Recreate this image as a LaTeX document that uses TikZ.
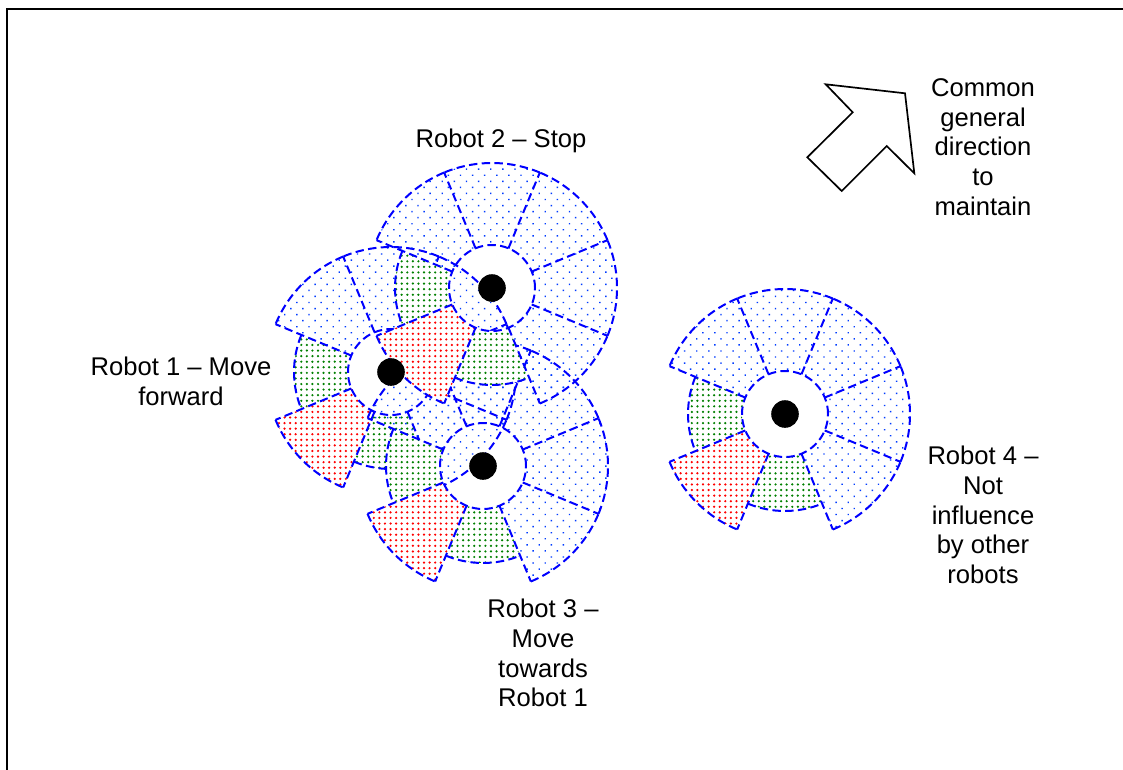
\documentclass[tikz,border=0pt]{standalone}
\usepackage{fontspec}
\setmainfont{Liberation Sans}
\usetikzlibrary{patterns.meta}

\definecolor{rblue}{RGB}{0,0,255}
\definecolor{dotblue}{RGB}{0,60,255}
\definecolor{rgreen}{RGB}{0,128,0}
\definecolor{rred}{RGB}{255,0,0}

\tikzset{
  secline/.style={draw=rblue, line width=1pt, dash pattern=on 4.2pt off 2.2pt},
  bluesec/.style={pattern={Dots[distance=4.3pt, angle=45, radius=0.5pt]}, pattern color=dotblue},
  redsec/.style={preaction={fill=white}, pattern={Dots[distance=2.8pt, radius=0.62pt]}, pattern color=rred},
  greensec/.style={preaction={fill=white}, pattern={Dots[distance=2.8pt, radius=0.62pt]}, pattern color=rgreen},
  robotdot/.style={circle, fill=black, minimum size=13.8bp, inner sep=0pt},
  label/.style={font=\fontsize{12.85}{14.9}\selectfont, align=center, inner sep=0pt},
  frameline/.style={draw=black, line width=1.1pt, line cap=rect},
  arrowline/.style={draw=black, line width=0.85pt, line join=miter}
}

% filled annular sector: style, middle angle, outer radius (inner radius 43)
\newcommand\rsector[3]{%
  \path[#1] (#2-22.5:43) -- (#2-22.5:#3)
    arc[start angle=#2-22.5, end angle=#2+22.5, radius=#3]
    -- (#2+22.5:43)
    arc[start angle=#2+22.5, end angle=#2-22.5, radius=43] -- cycle;}
% outer arc of a sector: middle angle, radius
\newcommand\rarc[2]{%
  \draw[secline] (#1-22.5:#2) arc[start angle=#1-22.5, end angle=#1+22.5, radius=#2];}

\newcommand\robotring[1]{%
  \begin{scope}[shift={#1}]
    \rsector{bluesec}{0}{125}
    \rsector{bluesec}{45}{125}
    \rsector{bluesec}{90}{125}
    \rsector{bluesec}{135}{125}
    \rsector{bluesec}{-45}{125}
    \rsector{greensec}{180}{97}
    \rsector{redsec}{225}{125}
    \rsector{greensec}{270}{97}
    \draw[secline] (0,0) circle[radius=43];
    \foreach \a in {22.5,67.5,...,337.5} {\draw[secline] (\a:43) -- (\a:125);}
    \rarc{0}{125}\rarc{45}{125}\rarc{90}{125}\rarc{135}{125}
    \rarc{180}{97}\rarc{225}{125}\rarc{270}{97}\rarc{315}{125}
  \end{scope}}

\begin{document}
\begin{tikzpicture}[x=0.5bp, y=0.5bp]
  \useasboundingbox (0,0) rectangle (1123,-769);
  \fill[white] (0,0) rectangle (1123,-769);

  % frame (only its left and top sides fall inside the picture)
  \draw[frameline] (7,-769) -- (7,-9) -- (1123,-9);

  % robots: drawn in the order 1, 3, 2, 4
  \robotring{(391,-372)}
  \robotring{(483,-466)}
  \robotring{(492,-288)}
  \robotring{(785,-414)}

  \node[robotdot] (r1) at (391,-372) {};
  \node[robotdot] (r2) at (492,-288) {};
  \node[robotdot] (r3) at (483,-466) {};
  \node[robotdot] (r4) at (785,-414) {};

  % common direction arrow
  \draw[arrowline] (825.7,-84.3) -- (905,-93.3) -- (914.3,-173.3) -- (886.7,-146)
    -- (841.7,-191) -- (807.3,-157.3) -- (852.7,-112.3) -- cycle;

  % labels
  \node[label] (tdir) at (983,-147) {Common\\general\\direction\\to\\maintain};
  \node[label, anchor=base] (t2) at (501,-147) {Robot 2 -- Stop};
  \node[label] (t1) at (181,-381.5) {Robot 1 -- Move\\forward};
  \node[label] (t3) at (543,-653) {Robot 3 --\\Move\\towards\\Robot 1};
  \node[label] (t4) at (983,-515) {Robot 4 --\\Not\\influence\\by other\\robots};
\end{tikzpicture}
\end{document}
